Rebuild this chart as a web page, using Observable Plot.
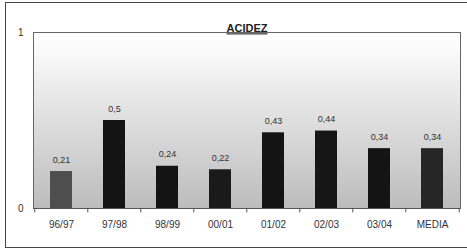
<!DOCTYPE html>
<html>
<head>
<meta charset="utf-8">
<script src="https://cdn.jsdelivr.net/npm/d3@7"></script>
<script src="https://cdn.jsdelivr.net/npm/@observablehq/plot@0.6"></script>
<style>
  html, body { margin: 0; padding: 0; background: #fff; }
  body { width: 467px; height: 248px; position: relative; overflow: hidden; font-family: "Liberation Sans", Arial, sans-serif; }
  #border { position: absolute; left: 5px; top: 2px; width: 470px; height: 246px; border-left: 1.5px solid #444; border-top: 1.5px solid #444; border-bottom: 1.5px solid #444; box-sizing: border-box; }
  #chart { position: absolute; left: 0; top: 0; }
</style>
</head>
<body>
<div id="border"></div>
<div id="chart"></div>
<script>
const title = "ACIDEZ";
const categories = ["96/97", "97/98", "98/99", "00/01", "01/02", "02/03", "03/04", "MEDIA"];
const values = [0.21, 0.5, 0.24, 0.22, 0.43, 0.44, 0.34, 0.34];
const valueLabels = ["0,21", "0,5", "0,24", "0,22", "0,43", "0,44", "0,34", "0,34"];
const barColors = ["#4e4e4e", "#141414", "#141414", "#1a1a1a", "#141414", "#161616", "#141414", "#262626"];
const yTicks = [0, 1];

const data = categories.map((c, i) => ({cat: c, value: values[i], label: valueLabels[i], color: barColors[i]}));

const chart = Plot.plot({
  width: 467,
  height: 248,
  marginLeft: 33,
  marginRight: 7,
  marginTop: 32,
  marginBottom: 40,
  style: {fontFamily: "Liberation Sans, Arial, sans-serif", background: "transparent", color: "#333"},
  x: {domain: categories, paddingInner: 0.59, paddingOuter: 0.295, label: null, tickSize: 0, tickPadding: 12},
  y: {domain: [0, 1], ticks: yTicks, label: null, tickSize: 0, tickPadding: 10, tickFormat: d => String(d)},
  marks: [
    Plot.frame({fill: "url(#bgGrad)", stroke: "#666", strokeWidth: 1}),
    Plot.barY(data, {x: "cat", y: "value", fill: "color"}),
    Plot.text(data, {x: "cat", y: "value", text: "label", lineAnchor: "bottom", dy: -9, fontSize: 9, fill: "#333"}),
    Plot.ruleY([0], {stroke: "#555", strokeWidth: 1.2}),
    Plot.ruleX(categories, {x: d => d, y1: 0, y2: -0.025, dx: -26.7, stroke: "#555"}),
    Plot.ruleX(categories.slice(-1), {x: d => d, y1: 0, y2: -0.025, dx: 26.7, stroke: "#555"}),
    Plot.text([title], {frameAnchor: "top", dy: -8, fontSize: 11, fontWeight: "bold", fill: "#222"})
  ]
});

const defs = d3.select(chart).insert("defs", ":first-child");
const grad = defs.append("linearGradient").attr("id", "bgGrad").attr("x1", 0).attr("y1", 0).attr("x2", 0).attr("y2", 1);
grad.append("stop").attr("offset", "0").attr("stop-color", "#ffffff");
grad.append("stop").attr("offset", "0.15").attr("stop-color", "#f7f7f7");
grad.append("stop").attr("offset", "1").attr("stop-color", "#bcbcbc");

d3.select(chart).selectAll("text").filter(function () { return this.textContent === title; })
  .style("text-decoration", "underline");
d3.select(chart).selectAll("g[aria-label='x-axis tick label'] text, g[aria-label='y-axis tick label'] text").attr("font-size", 10);
document.getElementById("chart").appendChild(chart);
</script>
</body>
</html>
